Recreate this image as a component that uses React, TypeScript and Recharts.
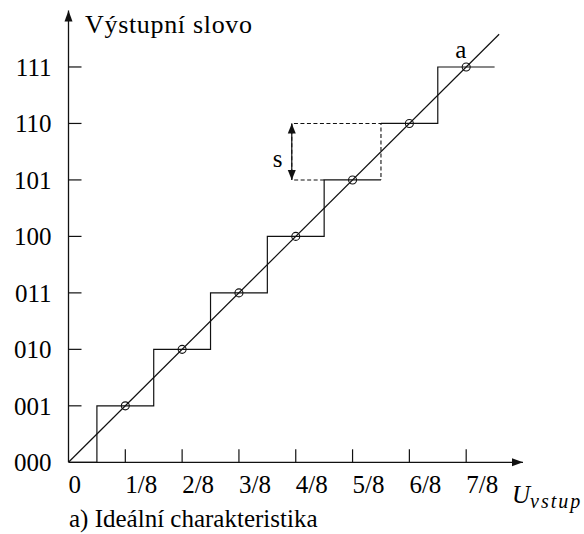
import { ComposedChart, Line, Scatter, XAxis, YAxis, ReferenceDot } from "recharts";

// output codes (y) and input fractions (x)
const levelLabels = ["000", "001", "010", "011", "100", "101", "110", "111"];
const inputLabels = ["0", "1/8", "2/8", "3/8", "4/8", "5/8", "6/8", "7/8"];
const tickValues = [0, 1, 2, 3, 4, 5, 6, 7];
const samplePoints = [1, 2, 3, 4, 5, 6, 7];
const riseAt = [0.5, 1.5, 2.5, 3.5, 4.5, 5.5, 6.5];
const stairEnd = 7.5;
const dashedRiser = 5.5;
const diagonalEnd = 7.58;
const stepMarkX = 3.93;
const axisMax = 8;

const FONT = "'Liberation Serif', 'DejaVu Serif', serif";
const INK = "#111";

const stairs: { x: number; y: number | null }[] = [{ x: 0, y: 0 }];
riseAt.forEach((r, i) => {
  stairs.push({ x: r, y: i });
  if (r === dashedRiser) stairs.push({ x: r, y: null });
  stairs.push({ x: r, y: i + 1 });
});
stairs.push({ x: stairEnd, y: samplePoints.length });

const diagonal = [
  { x: 0, y: 0 },
  { x: diagonalEnd, y: diagonalEnd },
];

const dashedBox = [
  { x: riseAt[4], y: 5 },
  { x: stepMarkX, y: 5 },
  { x: stepMarkX, y: 6 },
  { x: dashedRiser, y: 6 },
  { x: dashedRiser, y: 5 },
];

const samples = samplePoints.map((k) => ({ x: k, y: k }));

const txt = (size: number, extra: any = {}) => ({
  fontFamily: FONT,
  fontSize: size,
  fill: "#000",
  ...extra,
});

const XTick = (p: any) => {
  const v = p.payload.value;
  return (
    <g>
      {v > 0 && <line x1={p.x} y1={p.y} x2={p.x} y2={p.y - 13} stroke={INK} strokeWidth={1.2} />}
      <text x={p.x} y={p.y + 31} textAnchor="start" style={txt(25)}>
        {inputLabels[v]}
      </text>
    </g>
  );
};

const YTick = (p: any) => {
  const v = p.payload.value;
  return (
    <g>
      {v > 0 && <line x1={p.x} y1={p.y} x2={p.x + 13} y2={p.y} stroke={INK} strokeWidth={1.2} />}
      <text x={p.x - 17} y={p.y + 9} textAnchor="end" style={txt(25)}>
        {levelLabels[v]}
      </text>
    </g>
  );
};

const arrowHead = (dir: "up" | "down" | "right", len: number, half: number) => (p: any) => {
  const { cx, cy } = p;
  let pts = "";
  if (dir === "right") pts = `${cx},${cy} ${cx - len},${cy - half} ${cx - len},${cy + half}`;
  if (dir === "up") pts = `${cx},${cy} ${cx - half},${cy + len} ${cx + half},${cy + len}`;
  if (dir === "down") pts = `${cx},${cy} ${cx - half},${cy - len} ${cx + half},${cy - len}`;
  return <polygon points={pts} fill={INK} stroke="none" />;
};

const note = (content: any, dx: number, dy: number, size = 25, attrs: any = {}) => (p: any) => (
  <text x={p.cx + dx} y={p.cy + dy} style={txt(size)} {...attrs}>
    {content}
  </text>
);

export default function App() {
  return (
    <div style={{ position: "absolute", left: 0, top: 0, width: 584, height: 534, background: "#fff" }}>
      <ComposedChart
        width={584}
        height={534}
        margin={{ top: 10.5, right: 61, bottom: 70.7, left: 67.5 }}
      >
        <XAxis
          type="number"
          dataKey="x"
          domain={[0, axisMax]}
          ticks={tickValues}
          height={1}
          tickSize={0}
          tickMargin={0}
          tickLine={false}
          axisLine={{ stroke: INK, strokeWidth: 1.3 }}
          tick={XTick}
          allowDataOverflow
        />
        <YAxis
          type="number"
          dataKey="y"
          domain={[0, axisMax]}
          ticks={tickValues}
          width={1}
          tickSize={0}
          tickMargin={0}
          tickLine={false}
          axisLine={{ stroke: INK, strokeWidth: 1.3 }}
          tick={YTick}
          allowDataOverflow
        />
        <Line
          data={dashedBox}
          dataKey="y"
          stroke={INK}
          strokeWidth={1.1}
          strokeDasharray="4 2.5"
          dot={false}
          activeDot={false}
          isAnimationActive={false}
        />
        <Line
          data={stairs}
          dataKey="y"
          stroke={INK}
          strokeWidth={1.2}
          dot={false}
          activeDot={false}
          connectNulls={false}
          isAnimationActive={false}
        />
        <Line
          data={diagonal}
          dataKey="y"
          stroke={INK}
          strokeWidth={1.2}
          dot={false}
          activeDot={false}
          isAnimationActive={false}
        />
        <Line
          data={[
            { x: stepMarkX, y: 5 },
            { x: stepMarkX, y: 6 },
          ]}
          dataKey="y"
          stroke={INK}
          strokeWidth={1.2}
          dot={false}
          activeDot={false}
          isAnimationActive={false}
        />
        <Scatter
          data={samples}
          isAnimationActive={false}
          shape={(p: any) => (
            <circle cx={p.cx} cy={p.cy} r={4} fill="none" stroke={INK} strokeWidth={1.1} />
          )}
        />
        <ReferenceDot x={axisMax} y={0} ifOverflow="visible" shape={arrowHead("right", 11, 4)} />
        <ReferenceDot x={0} y={axisMax} ifOverflow="visible" shape={arrowHead("up", 11, 4)} />
        <ReferenceDot x={stepMarkX} y={6} ifOverflow="visible" shape={arrowHead("up", 10, 4)} />
        <ReferenceDot x={stepMarkX} y={5} ifOverflow="visible" shape={arrowHead("down", 10, 4)} />
        <ReferenceDot
          x={0}
          y={axisMax}
          ifOverflow="visible"
          shape={note("Výstupní slovo", 16.5, 22.5, 26, { textLength: 167, lengthAdjust: "spacing" })}
        />
        <ReferenceDot x={7} y={7} ifOverflow="visible" shape={note("a", -11, -9)} />
        <ReferenceDot x={stepMarkX} y={5.5} ifOverflow="visible" shape={note("s", -19, 15)} />
        <ReferenceDot
          x={axisMax}
          y={0}
          ifOverflow="visible"
          shape={note(
            <>
              <tspan fontStyle="italic">U</tspan>
              <tspan fontStyle="italic" fontSize={20} dy={5} letterSpacing={2}>
                vstup
              </tspan>
            </>,
            -11,
            41
          )}
        />
        <ReferenceDot
          x={0}
          y={0}
          ifOverflow="visible"
          shape={note("a) Ideální charakteristika", 0.5, 65)}
        />
      </ComposedChart>
    </div>
  );
}
